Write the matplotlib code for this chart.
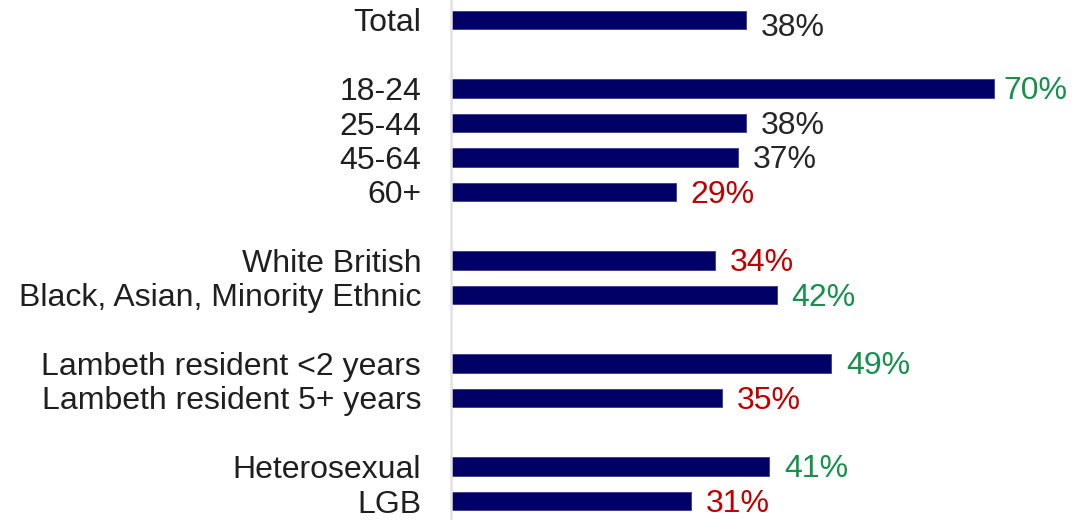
import matplotlib
matplotlib.use("Agg")
import matplotlib.pyplot as plt

categories = ["Total", "18-24", "25-44", "45-64", "60+",
              "White British", "Black, Asian, Minority Ethnic",
              "Lambeth resident <2 years", "Lambeth resident 5+ years",
              "Heterosexual", "LGB"]
values = [38, 70, 38, 37, 29, 34, 42, 49, 35, 41, 31]
# comparison against total: 0 = same, 1 = higher, -1 = lower
signif = [0, 1, 0, 0, -1, -1, 1, 1, -1, 1, -1]
slots = [0, 2, 3, 4, 5, 7, 8, 10, 11, 13, 14]

BAR = "#000066"
LABEL_COLORS = {0: "#262626", 1: "#17904c", -1: "#c00000"}

plt.rcParams["font.family"] = ["Liberation Sans", "DejaVu Sans"]

fig = plt.figure(figsize=(10.89, 5.2), dpi=100)
ax = fig.add_axes([451 / 1089, 0, 1 - 451 / 1089, 1])

ax.barh(slots, values, height=0.54, color=BAR, edgecolor="#3a3a8a", linewidth=0.6)
xmax = 638 / 7.757
ax.set_xlim(0, xmax)
ax.set_ylim(14.553, -0.582)

for s, v, g in zip(slots, values, signif):
    dy = 0.22 if s == 0 else 0.08
    # keep the label inside the figure when the bar is long
    x = min(v + 1.9, xmax - 11.1)
    ax.text(x, s + dy, f"{v}%", va="center", ha="left",
            fontsize=23, color=LABEL_COLORS[g])

ax.set_yticks(slots)
ax.set_yticklabels(categories, fontsize=23, color="#1f1f1f")
ax.tick_params(axis="y", length=0, pad=21.5)
ax.set_xticks([])

for side in ("top", "right", "bottom"):
    ax.spines[side].set_visible(False)
ax.spines["left"].set_color("#e3e3e3")
ax.spines["left"].set_linewidth(1.8)

fig.savefig("out.png", dpi=100)
